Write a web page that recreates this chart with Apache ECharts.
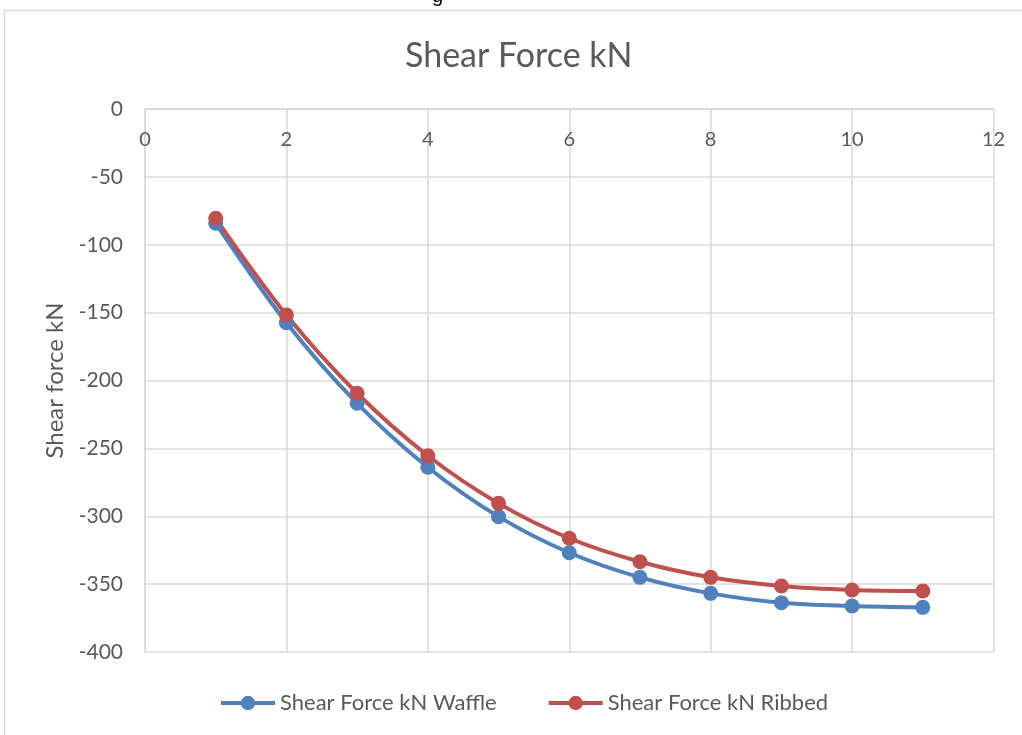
<!DOCTYPE html>
<html>
<head>
<meta charset="utf-8">
<title>Shear Force kN</title>
<script src="https://cdn.jsdelivr.net/npm/echarts@6/dist/echarts.min.js"></script>
<style>
  html, body { margin: 0; padding: 0; background: #ffffff; }
  #chart { width: 1022px; height: 735px; }
</style>
</head>
<body>
<div id="chart"></div>
<script>
// Station number along the slab strip
const stations = [1, 2, 3, 4, 5, 6, 7, 8, 9, 10, 11];
// Shear force (kN) for each slab system
const waffleShear = [-84.2, -157.4, -216.8, -263.9, -300.3, -326.9, -345.0, -356.8, -363.7, -366.1, -367.1];
const ribbedShear = [-80.5, -151.7, -209.4, -255.4, -290.5, -316.2, -333.5, -345.0, -351.4, -354.3, -355.1];
const seriesNames = ['Shear Force kN Waffle', 'Shear Force kN Ribbed'];
const chartTitle = 'Shear Force kN';
const yAxisName = 'Shear force kN';

const FONT = 'Lato, "Open Sans", sans-serif';
const TEXT = '#595959';
const GRID = '#d9d9d9';
const BLUE = '#4F81BD';
const RED = '#C0504D';

const pairs = (xs, ys) => xs.map((x, i) => [x, ys[i]]);

const chart = echarts.init(document.getElementById('chart'), null, { renderer: 'canvas' });

const lineSeries = (name, values, color) => ({
  name: name,
  type: 'line',
  data: pairs(stations, values),
  smooth: 0.35,
  symbol: 'circle',
  symbolSize: 15,
  showSymbol: true,
  lineStyle: { color: color, width: 4 },
  itemStyle: { color: color },
  emphasis: { disabled: true },
  animation: false
});

chart.setOption({
  backgroundColor: '#ffffff',
  animation: false,
  textStyle: { fontFamily: FONT },
  title: {
    text: chartTitle,
    left: 400,
    top: 34,
    textStyle: { fontFamily: FONT, fontSize: 34, fontWeight: 'normal', color: TEXT }
  },
  legend: {
    bottom: 16,
    left: 214,
    itemWidth: 54,
    itemHeight: 18,
    itemGap: 50,
    lineStyle: { width: 4 },
    textStyle: { fontFamily: FONT, fontSize: 22, color: TEXT, padding: [0, 0, 0, 0] },
    data: seriesNames
  },
  grid: { left: 145, right: 28.5, top: 109, bottom: 83, containLabel: false },
  xAxis: {
    type: 'value',
    position: 'top',
    min: 0,
    max: 12,
    interval: 2,
    axisLine: { show: true, onZero: false, lineStyle: { color: GRID, width: 1.5 } },
    axisTick: { show: false },
    axisLabel: { inside: true, margin: 21, fontFamily: FONT, fontSize: 20, color: TEXT },
    splitLine: { show: true, lineStyle: { color: GRID, width: 1.5 } }
  },
  yAxis: {
    type: 'value',
    min: -400,
    max: 0,
    interval: 50,
    name: yAxisName,
    nameLocation: 'middle',
    nameGap: 74,
    nameTextStyle: { fontFamily: FONT, fontSize: 24, color: TEXT },
    axisLine: { show: true, onZero: false, lineStyle: { color: GRID, width: 1.5 } },
    axisTick: { show: false },
    axisLabel: { margin: 22, fontFamily: FONT, fontSize: 21, color: TEXT },
    splitLine: { show: true, lineStyle: { color: GRID, width: 1.5 } }
  },
  graphic: [
    {
      type: 'rect',
      silent: true,
      shape: { x: 4.5, y: 10.5, width: 1040, height: 760 },
      style: { fill: 'none', stroke: GRID, lineWidth: 1.5 }
    },
    {
      type: 'text',
      silent: true,
      x: 432,
      y: -14,
      style: { text: 'g', fontFamily: '"Liberation Sans", Arial, sans-serif', fontSize: 20, fill: '#000000' }
    }
  ],
  series: [
    lineSeries(seriesNames[0], waffleShear, BLUE),
    lineSeries(seriesNames[1], ribbedShear, RED)
  ]
});
</script>
</body>
</html>
